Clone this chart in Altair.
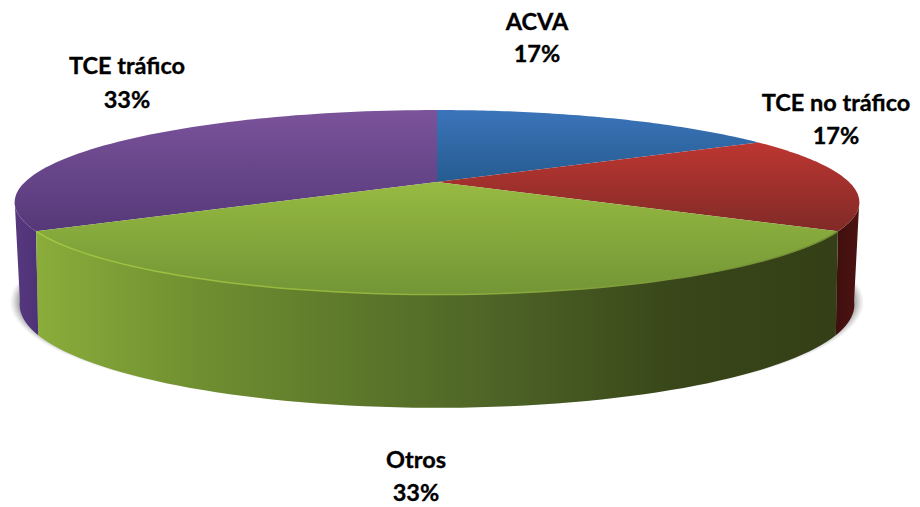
import altair as alt
import numpy as np
import pandas as pd

# ---- chart values -------------------------------------------------------
categories = ["ACVA", "TCE no tráfico", "Otros", "TCE tráfico"]
values = [1, 1, 2, 2]
percent_labels = ["17%", "17%", "33%", "33%"]
label_cx = [537, 836, 416, 127]
label_name_y = [23, 104, 461, 67]
label_pct_y = [55, 137, 494, 101]

W, H = 904, 499
CX, CY = 437.0, 182.0
A, B, K = 412.0, 87.8, 0.22
A2, B2, CY2, K2 = 405.0, 97.0, 280.0, 0.241

shares = np.array(values, dtype=float) / sum(values)
edges = np.concatenate([[0.0], np.cumsum(shares)]) * 360.0


def rim(t0, t1, a, b, cy, k, n=70, dy=0.0):
    t = np.radians(np.linspace(t0, t1, n))
    X, Y = np.sin(t), np.cos(t)
    w = 1 + k * Y
    return CX + a * X / w - 8, cy - b * Y / w - 8 + dy


def poly(xs, ys):
    return pd.DataFrame({"x": xs, "y": ys, "i": np.arange(len(xs))})


def top_slice(t0, t1):
    x, y = rim(t0, t1, A, B, CY, K)
    return poly(np.r_[CX - 8, x], np.r_[CY - 8, y])


def wall(t0, t1):
    x, y = rim(t0, t1, A, B, CY, K)
    x2, y2 = rim(t0, t1, A2, B2, CY2, K2)
    return poly(np.r_[x, x2[::-1]], np.r_[y, y2[::-1]])


xs = alt.Scale(domain=[0, W], range=[0, W], nice=False, zero=False)
ys = alt.Scale(domain=[0, H], range=[0, H], nice=False, zero=False)


def enc(ch):
    return ch.encode(
        x=alt.X("x:Q", scale=xs, axis=None),
        y=alt.Y("y:Q", scale=ys, axis=None),
        order=alt.Order("i:Q"),
    )


def grad(stops, horizontal=False):
    s = [alt.GradientStop(offset=o, color=c) for o, c in stops]
    if horizontal:
        return alt.Gradient(gradient="linear", stops=s, x1=0, x2=1, y1=0, y2=0)
    return alt.Gradient(gradient="linear", stops=s, x1=0, x2=0, y1=0, y2=1)


def filled(df, fill, **kw):
    return enc(alt.Chart(df).mark_line(fill=fill, strokeWidth=0, strokeOpacity=0, **kw))


layers = []

# soft shadow under the base
for g, op in [(1.022, 0.05), (1.018, 0.07), (1.014, 0.09), (1.010, 0.11), (1.006, 0.14), (1.002, 0.18)]:
    x, y = rim(0, 360, A2 * g, B2 * g, CY2, K2, n=180, dy=-3)
    layers.append(filled(poly(x, y), "#444444", opacity=op))

# side walls
red_wall = wall(edges[2] - 18, edges[2])
purple_wall = wall(edges[3], edges[3] + 18)
green_wall = wall(edges[2], edges[3])
layers.append(filled(red_wall, grad([(0, "#3f0f0e"), (1, "#4c1311")], True)))
layers.append(filled(purple_wall, grad([(0, "#56387f"), (1, "#4e3277")], True)))
layers.append(filled(green_wall, grad([
    (0, "#8aad3b"), (0.2, "#708f31"), (0.38, "#5e7a2b"),
    (0.58, "#4d6326"), (0.8, "#384619"), (1, "#353f17")], True)))

# top faces
faces = [
    (top_slice(edges[0], edges[1]), [(0, "#3b74ba"), (1, "#255c90")]),
    (top_slice(edges[1], edges[2]), [(0, "#bd3631"), (1, "#802a27")]),
    (top_slice(edges[3], edges[4]), [(0, "#7b539b"), (1, "#553878")]),
    (top_slice(edges[2], edges[3]), [(0, "#96ba41"), (1, "#739536")]),
]
for df, st in faces:
    layers.append(filled(df, grad(st)))

# highlight on the front edge of the largest front slice
hx, hy = rim(edges[2], edges[3], A, B, CY, K)
layers.append(enc(alt.Chart(poly(hx, hy)).mark_line(
    strokeWidth=1.5,
    stroke=grad([(0, "#a3c743"), (0.5, "#8fb03c"), (1, "#6f8a34")], True))))

# labels
lab = pd.DataFrame({
    "name": categories, "pct": percent_labels,
    "x": np.array(label_cx) - 8.0,
    "y1": np.array(label_name_y) - 8.0,
    "y2": np.array(label_pct_y) - 8.0,
})
text = dict(font="Lato", fontWeight="bold", fontSize=23.5, color="#000000",
            stroke="#000000", strokeWidth=0.35, align="center", baseline="middle")
layers.append(alt.Chart(lab).mark_text(**text).encode(
    x=alt.X("x:Q", scale=xs, axis=None), y=alt.Y("y1:Q", scale=ys, axis=None), text="name:N"))
layers.append(alt.Chart(lab).mark_text(**text).encode(
    x=alt.X("x:Q", scale=xs, axis=None), y=alt.Y("y2:Q", scale=ys, axis=None), text="pct:N"))

chart = alt.layer(*layers).properties(
    width=W, height=H, padding=0,
    autosize=alt.AutoSizeParams(type="none"),
    background="white",
).configure_view(stroke=None)

chart.save("out.html", embed_options={"renderer": "svg", "actions": False})
